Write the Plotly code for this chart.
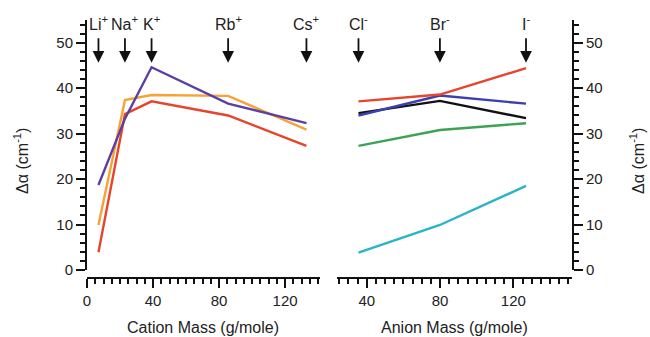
import plotly.graph_objects as go

# Cation panel
cation_labels = ["Li<sup>+</sup>", "Na<sup>+</sup>", "K<sup>+</sup>", "Rb<sup>+</sup>", "Cs<sup>+</sup>"]
cation_mass = [6.94, 22.99, 39.10, 85.47, 132.91]
cation_purple = [18.7, 33.3, 44.6, 36.6, 32.3]
cation_orange = [9.9, 37.4, 38.5, 38.3, 30.9]
cation_red = [3.9, 34.3, 37.1, 34.0, 27.3]

# Anion panel
anion_labels = ["Cl<sup>-</sup>", "Br<sup>-</sup>", "I<sup>-</sup>"]
anion_mass = [35.45, 79.90, 126.90]
anion_red = [37.1, 38.6, 44.4]
anion_blue = [34.0, 38.4, 36.6]
anion_black = [34.5, 37.2, 33.4]
anion_green = [27.3, 30.8, 32.3]
anion_cyan = [3.8, 9.9, 18.5]

FONT = "Liberation Sans, Arial, sans-serif"
fig = go.Figure()

def line(x, y, color, xa, ya):
    fig.add_trace(go.Scatter(x=x, y=y, mode="lines", xaxis=xa, yaxis=ya,
                             line=dict(color=color, width=2.4), showlegend=False,
                             cliponaxis=False))

line(cation_mass, cation_orange, "#F5A334", "x", "y")
line(cation_mass, cation_red, "#E8442C", "x", "y")
line(cation_mass, cation_purple, "#5A3FA6", "x", "y")

line(anion_mass, anion_green, "#3DA253", "x2", "y2")
line(anion_mass, anion_cyan, "#2BB4C6", "x2", "y2")
line(anion_mass, anion_black, "#111111", "x2", "y2")
line(anion_mass, anion_blue, "#3C3FB0", "x2", "y2")
line(anion_mass, anion_red, "#E8442C", "x2", "y2")

axis_common = dict(showgrid=False, zeroline=False, showline=True, linecolor="#111",
                   linewidth=2, ticks="outside", ticklen=9, tickwidth=2, tickcolor="#111",
                   tickfont=dict(family=FONT, size=15, color="#222"))

ydom = [0.031, 1]
fig.update_layout(
    width=650, height=337, margin=dict(l=87, r=78, t=20, b=59),
    paper_bgcolor="white", plot_bgcolor="white",
    xaxis=dict(domain=[0, 0.48], range=[0, 141], tickvals=[0, 40, 80, 120],
               anchor="free", position=0,
               minor=dict(dtick=5, tick0=0, ticklen=5, tickwidth=1.5, tickcolor="#111", ticks="outside"),
               **axis_common),
    yaxis=dict(domain=ydom, range=[0, 55], tickvals=[0, 10, 20, 30, 40, 50], anchor="x",
               minor=dict(dtick=2, tick0=0, ticklen=5, tickwidth=1.5, tickcolor="#111", ticks="outside"),
               **axis_common),
    xaxis2=dict(domain=[0.515, 1], range=[23.6, 152], tickvals=[40, 80, 120],
                anchor="free", position=0,
                minor=dict(dtick=5, tick0=0, ticklen=5, tickwidth=1.5, tickcolor="#111", ticks="outside"),
                **axis_common),
    yaxis2=dict(domain=ydom, range=[0, 55], tickvals=[0, 10, 20, 30, 40, 50], anchor="x2",
                side="right",
                minor=dict(dtick=2, tick0=0, ticklen=5, tickwidth=1.5, tickcolor="#111", ticks="outside"),
                **axis_common),
)

ann = []
tfont = dict(family=FONT, size=16, color="#222")
# axis titles
ann.append(dict(text="Cation Mass (g/mole)", xref="paper", yref="paper", x=0.24, y=0,
                xanchor="center", yanchor="middle",
                yshift=-49, showarrow=False, font=tfont))
ann.append(dict(text="Anion Mass (g/mole)", xref="paper", yref="paper", x=0.7575, y=0,
                xanchor="center", yanchor="middle",
                yshift=-49, showarrow=False, font=tfont))
ytitle = "\u0394\u03b1 (cm<sup>-1</sup>)"
ann.append(dict(text=ytitle, xref="paper", yref="y", x=0, y=24, xshift=-66, textangle=-90,
                xanchor="center", yanchor="middle",
                showarrow=False, font=tfont))
ann.append(dict(text=ytitle, xref="paper", yref="y", x=1, y=24, xshift=65, textangle=-90,
                xanchor="center", yanchor="middle",
                showarrow=False, font=tfont))

def arrows(masses, labels, xr, yr):
    for m, lab in zip(masses, labels):
        ann.append(dict(text=lab, x=m, y=54.3, xref=xr, yref=yr, showarrow=False,
                        xanchor="center", yanchor="middle",
                        font=dict(family=FONT, size=16, color="#222")))
        ann.append(dict(text="", x=m, y=45.6, ax=m, ay=51.3, xref=xr, yref=yr,
                        axref=xr, ayref=yr, showarrow=True, arrowhead=2, arrowsize=1.3,
                        arrowwidth=1.8, arrowcolor="#111"))

arrows(cation_mass, cation_labels, "x", "y")
arrows(anion_mass, anion_labels, "x2", "y2")

fig.update_layout(annotations=ann)
fig.write_html("out.html")
